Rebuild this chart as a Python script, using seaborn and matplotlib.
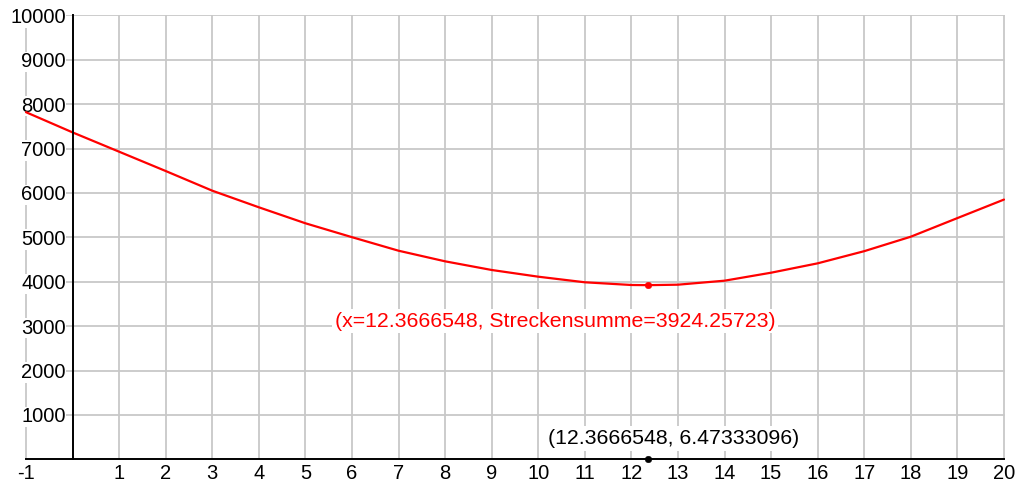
import numpy as np
import pandas as pd
import matplotlib
matplotlib.use("Agg")
import matplotlib.pyplot as plt
import seaborn as sns

# ---- data ----
x_vals = [-1, 0, 1, 2, 3, 4, 5, 6, 7, 8, 9, 10, 11, 12, 12.3666548, 13, 14, 15, 16, 17, 18, 19, 20]
streckensumme = [7820, 7365, 6930, 6495, 6052, 5678, 5318, 5005, 4700, 4461, 4266, 4115, 3989,
                 3928, 3924.25723, 3935, 4025, 4205, 4416, 4690, 5016, 5435, 5852]
min_x = 12.3666548
min_y = 3924.25723
axis_point_y = 6.47333096
x_ticks = [-1] + list(range(1, 21))
y_ticks = list(range(1000, 10001, 1000))
red_label = "(x=12.3666548, Streckensumme=3924.25723)"
black_label = "(12.3666548, 6.47333096)"

sns.set_style("white")
plt.rcParams['font.family'] = ['Liberation Sans', 'DejaVu Sans']

W, H = 1023, 492
fig = plt.figure(figsize=(W / 100, H / 100), dpi=100)

# axes placement in pixels
xmin, xmax = -1.02, 20.02
ymin, ymax = 0, 10020
px_per_x = 46.57
px_per_y = 0.0444
left_px = 26 - (-1 - xmin) * px_per_x
width_px = (xmax - xmin) * px_per_x
bottom_px = H - 459.4
height_px = (ymax - ymin) * px_per_y
ax = fig.add_axes([left_px / W, bottom_px / H, width_px / W, height_px / H])

df = pd.DataFrame({"x": x_vals, "Streckensumme": streckensumme})

# grid
for gx in range(-1, 21):
    ax.axvline(gx, ymin=0, ymax=10000 / ymax, color="#c8c8c8", lw=1.3, zorder=0)
for gy in y_ticks:
    ax.axhline(gy, xmin=(-1 - xmin) / (xmax - xmin), xmax=(20 - xmin) / (xmax - xmin),
               color="#c8c8c8", lw=1.3, zorder=0)

sns.lineplot(data=df, x="x", y="Streckensumme", color="red", lw=1.6, ax=ax, legend=False, zorder=3)
sns.scatterplot(x=[min_x], y=[min_y], color="red", s=22, edgecolor="red", ax=ax, zorder=4)
sns.scatterplot(x=[min_x], y=[axis_point_y], color="black", s=22, edgecolor="black", ax=ax,
                zorder=6, clip_on=False)

ax.set_xlim(xmin, xmax)
ax.set_ylim(ymin, ymax)
ax.set_xlabel("")
ax.set_ylabel("")

for s in ["top", "right"]:
    ax.spines[s].set_visible(False)
ax.spines["left"].set_position(("data", 0))
ax.spines["left"].set_bounds(0, 10000)
ax.spines["bottom"].set_bounds(-1, 20)
for s in ["left", "bottom"]:
    ax.spines[s].set_color("black")
    ax.spines[s].set_linewidth(1.4)
    ax.spines[s].set_zorder(5)

ax.set_xticks(x_ticks)
ax.set_xticklabels([str(t) for t in x_ticks])
ax.set_yticks(y_ticks)
ax.set_yticklabels([str(t) for t in y_ticks])
ax.tick_params(axis="x", direction="in", length=5, width=1.4, pad=3.5, labelsize=14.5, colors="black")
ax.tick_params(axis="y", direction="out", length=4, width=1.4, pad=1, labelsize=14.5, colors="black")
for lbl in ax.get_yticklabels():
    lbl.set_bbox(dict(facecolor="white", edgecolor="none", pad=0.5))

ax.text(10.36, 3117, red_label, color="red", fontsize=15.3, ha="center", va="center",
        bbox=dict(facecolor="white", edgecolor="none", pad=2.0), zorder=7)
ax.text(12.91, 475, black_label, color="black", fontsize=15.3, ha="center", va="center",
        bbox=dict(facecolor="white", edgecolor="none", pad=2.0), zorder=7)

fig.savefig("out.png", dpi=100)
